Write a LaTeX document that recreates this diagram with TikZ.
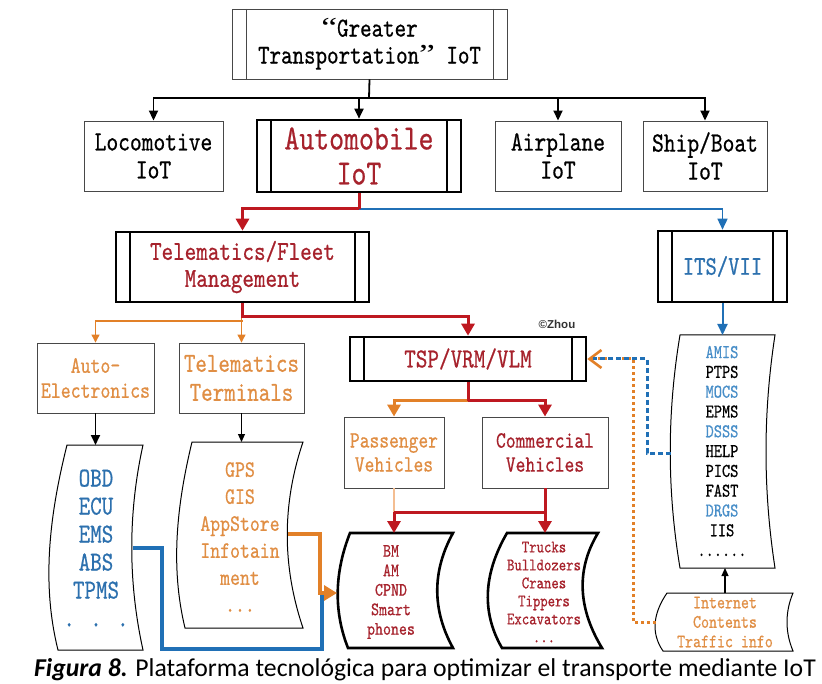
\documentclass[tikz,border=0pt]{standalone}
\usepackage{fontspec}
\usetikzlibrary{arrows.meta}
\newfontfamily\simfont[FakeStretch=0.8,FakeBold=0.6]{lmmono10-regular.otf}
\newfontfamily\quotefont[FakeStretch=1.3]{Liberation Serif}
\newfontfamily\capfont{Carlito}
\newfontfamily\markfont{Liberation Sans}
\newcommand{\fsz}[2]{\fontsize{#1}{#2}\selectfont}
\definecolor{lnred}{RGB}{190,24,32}
\definecolor{txred}{RGB}{166,34,44}
\definecolor{lnblue}{RGB}{32,112,182}
\definecolor{txblue}{RGB}{44,112,174}
\definecolor{ltblue}{RGB}{72,142,200}
\definecolor{lnorange}{RGB}{226,128,40}
\definecolor{txorange}{RGB}{224,142,68}
\definecolor{paleorange}{RGB}{244,190,146}
\definecolor{boxgray}{RGB}{72,72,72}
\begin{document}
\begin{tikzpicture}[
    x=1pt, y=-1pt,
    line join=miter,
    thinbox/.style={draw=boxgray, line width=0.9pt, inner sep=0pt, align=center},
    thickbox/.style={draw=black, line width=2.6pt, inner sep=0pt, align=center},
    bars/.style n args={2}{path picture={
        \draw[line width=#1, #2]
            ([xshift=14pt]path picture bounding box.north west) --
            ([xshift=14pt]path picture bounding box.south west)
            ([xshift=-14pt]path picture bounding box.north east) --
            ([xshift=-14pt]path picture bounding box.south east);}},
    list/.style={inner sep=0pt, align=center},
    wave/.style={draw=black, line width=1pt},
    wavethick/.style={draw=black, line width=2.6pt},
    blkline/.style={draw=black, line width=1.8pt},
    blkarr/.style={blkline, -{Triangle[length=10pt,width=9pt]}},
    blkthin/.style={draw=black, line width=1.1pt, -{Triangle[length=8pt,width=7pt]}},
    redline/.style={draw=lnred, line width=3pt},
    redarr/.style={redline, -{Triangle[length=12pt,width=13pt]}},
    bluearr/.style={draw=lnblue, line width=1.5pt, -{Triangle[length=11pt,width=10pt]}},
    bluefat/.style={draw=lnblue, line width=3.2pt},
    orthin/.style={draw=lnorange, line width=1.2pt, -{Triangle[length=8pt,width=8pt]}},
    orarr/.style={draw=lnorange, line width=3pt, -{Triangle[length=12pt,width=13pt]}},
    orfat/.style={draw=lnorange, line width=3.2pt, -{Triangle[length=13pt,width=15pt]}},
    paleline/.style={draw=paleorange, line width=2pt},
    ordot/.style={draw=lnorange, line width=3pt, dash pattern=on 3pt off 3pt,
        -{Straight Barb[length=12pt,width=18pt,line width=2.6pt]}},
    bldash/.style={draw=lnblue, line width=3pt, dash pattern=on 5pt off 3pt}
]
\useasboundingbox (0,0) rectangle (822,684);

% top and transport kinds
\node[thinbox, bars={0.9pt}{boxgray}, minimum width=275pt, minimum height=70pt,
    font=\simfont\fsz{27.4}{27}] (top) at (369.5,44)
    {{\quotefont “}Greater\\Transportation{\quotefont ”} IoT};
\node[thinbox, minimum width=139pt, minimum height=70pt,
    font=\simfont\fsz{28}{28}] (loco) at (153.5,156) {Locomotive\\IoT};
\node[thickbox, bars={2.5pt}{black}, minimum width=204pt, minimum height=72pt,
    text=txred, font=\simfont\fsz{35.5}{35}] (auto) at (359,156) {Automobile\\IoT};
\node[thinbox, minimum width=126pt, minimum height=70pt,
    font=\simfont\fsz{28}{28}] (air) at (558,156) {Airplane\\IoT};
\node[thinbox, minimum width=124pt, minimum height=70pt,
    font=\simfont\fsz{28}{28}] (ship) at (705,156) {Ship/Boat\\IoT};

% second level
\node[thickbox, bars={2.5pt}{black}, minimum width=253pt, minimum height=70pt,
    text=txred, font=\simfont\fsz{27.5}{27}] (fleet) at (242.5,267) {Telematics/Fleet\\Management};
\node[thickbox, bars={2.5pt}{black}, minimum width=129pt, minimum height=71pt,
    text=txblue, font=\simfont\fsz{27}{27}] (its) at (722.5,266.5) {ITS/VII};

% third level
\node[thinbox, minimum width=117pt, minimum height=70pt,
    text=txorange, font=\simfont\fsz{23.6}{25}] (autoel) at (95.5,378) {Auto-\\Electronics};
\node[thinbox, minimum width=125pt, minimum height=70pt,
    text=txorange, font=\simfont\fsz{27.4}{29}] (term) at (241.5,378) {Telematics\\Terminals};
\node[thickbox, bars={2.5pt}{black}, minimum width=236pt, minimum height=44pt,
    text=txred, font=\simfont\fsz{27.6}{28}] (tsp) at (468,359) {TSP/VRM/VLM};
\node[font=\markfont\bfseries\fsz{11.5}{12}, text=black!80] (mark) at (557,324) {©Zhou};

% vehicle kinds
\node[thinbox, minimum width=100pt, minimum height=71pt,
    text=txorange, font=\simfont\fsz{23.3}{24}] (pass) at (394,452.5) {Passenger\\Vehicles};
\node[thinbox, minimum width=126pt, minimum height=71pt,
    text=txred, font=\simfont\fsz{23.3}{24}] (comm) at (545,452.5) {Commercial\\Vehicles};

% wavy boxes
\draw[wave] (67,445) -- (143,445) .. controls +(-15,68) and +(-15,-68) .. (143,650)
    -- (58,650) .. controls +(-17,-68) and +(-17,68) .. (67,445) -- cycle;
\draw[wave] (192,442) -- (303,442) .. controls +(-21,62) and +(-21,-62) .. (303,628)
    -- (185,628) .. controls +(-15,-62) and +(-15,62) .. (192,442) -- cycle;
\draw[wavethick] (350,533) -- (453,533) .. controls +(-21,38) and +(-21,-38) .. (453,648)
    -- (348,648) .. controls +(-15,-38) and +(-15,38) .. (350,533) -- cycle;
\draw[wavethick] (507,533) -- (598,533) .. controls +(-23,38) and +(-23,-38) .. (602,648)
    -- (502,648) .. controls +(-22,-38) and +(-22,38) .. (507,533) -- cycle;
\draw[wave] (680,335) -- (775,335) .. controls +(-12,78) and +(-12,-78) .. (775,568)
    -- (680,568) .. controls +(-13,-78) and +(-13,78) .. (680,335) -- cycle;
\draw[wave] (667,593) -- (793,593) .. controls +(-8,19) and +(-8,-19) .. (793,651)
    -- (663,651) .. controls +(-13,-19) and +(-13,19) .. (667,593) -- cycle;

\node[list, text=txblue, font=\simfont\fsz{27.4}{28}] (obd) at (96,548)
    {OBD\\ECU\\EMS\\ABS\\TPMS\\. . .};
\node[list, text=txorange, font=\simfont\fsz{23.6}{27}] (gps) at (240,537)
    {GPS\\GIS\\AppStore\\Infotain\\ment\\...};
\node[list, text=txred, font=\simfont\fsz{19}{19.5}] (bm) at (391,592)
    {BM\\AM\\CPND\\Smart\\phones};
\node[list, text=txred, font=\simfont\fsz{17.6}{18}] (trucks) at (544,592)
    {Trucks\\Bulldozers\\Cranes\\Tippers\\Excavators\\...};
\node[list, font=\simfont\fsz{19.5}{19.8}] (amis) at (722,451)
    {\textcolor{ltblue}{AMIS}\\PTPS\\\textcolor{ltblue}{MOCS}\\EPMS\\\textcolor{ltblue}{DSSS}\\HELP\\PICS\\FAST\\\textcolor{ltblue}{DRGS}\\IIS\\......};
\node[list, text=txorange, font=\simfont\fsz{19}{19.5}] (inet) at (725,622)
    {Internet\\Contents\\Traffic info};

\coordinate (obdtop) at (95.5,445);
\coordinate (gpstop) at (241.5,442);
\coordinate (bmtop) at (394,533);
\coordinate (trktop) at (545,533);
\coordinate (amistop) at (722.5,335);
\coordinate (amisbot) at (725,568);
\coordinate (inettop) at (725,593);
\coordinate (obdout) at (133,548);
\coordinate (gpsout) at (288,534);
\coordinate (bmin) at (337,593);
\coordinate (amisout) at (671,453);
\coordinate (inetout) at (656,622);

% connectors
\coordinate (hubA) at (369,98);
\draw[blkline] (top.south) -- (hubA);
\foreach \n in {loco,auto,air,ship}
    \draw[blkarr] (hubA) -| (\n.north);

\coordinate (hubB) at (359,209);
\draw[bluearr] (hubB) -| (its.north);
\draw[redline] (auto.south) -- (hubB);
\draw[redarr] (hubB) -| (fleet.north);

\coordinate (hubC) at (242.5,317);
\coordinate (hubD) at (242.5,321);
\draw[orthin] (term.north |- hubC) -- (term.north);
\draw[orthin] (hubD) -| (autoel.north);
\draw[redarr] (fleet.south) -- (hubC) -| (tsp.north);

\coordinate (hubE) at (468,401);
\draw[orarr] (hubE) -| (pass.north);
\draw[redline] (tsp.south) -- (hubE);
\draw[redarr] (hubE) -| (comm.north);

\coordinate (hubF) at (394,512);
\draw[paleline] (pass.south) -- (hubF);
\draw[redline] (comm.south |- hubF) -- (hubF);
\draw[redarr] (hubF) -- (bmtop);
\draw[redarr] (comm.south) -- (trktop);

\draw[blkarr] (autoel.south) -- (obdtop);
\draw[blkthin] (term.south) -- (gpstop);
\draw[bluearr, line width=2pt] (its.south) -- (amistop);
\draw[blkthin] (inettop) -- (amisbot);

\draw[bluefat] (obdout) -- (162,548) -- (162,649) -- (322,649) -- (322,593);
\draw[orfat] (gpsout) -- (320,534) -- (320,593) -- (bmin);

\draw[ordot] (inetout) -- (633,622) -- (633,359) -- (tsp.east);
\draw[bldash] (amisout) -- (647,453) -- (647,359) -- ([xshift=6pt]tsp.east);

% caption
\node[font=\capfont\fsz{25.7}{30}, anchor=base] (cap) at (425,676)
    {\textbf{\textit{Figura 8.}} Plataforma tecnológica para optimizar el transporte mediante IoT};
\end{tikzpicture}
\end{document}
